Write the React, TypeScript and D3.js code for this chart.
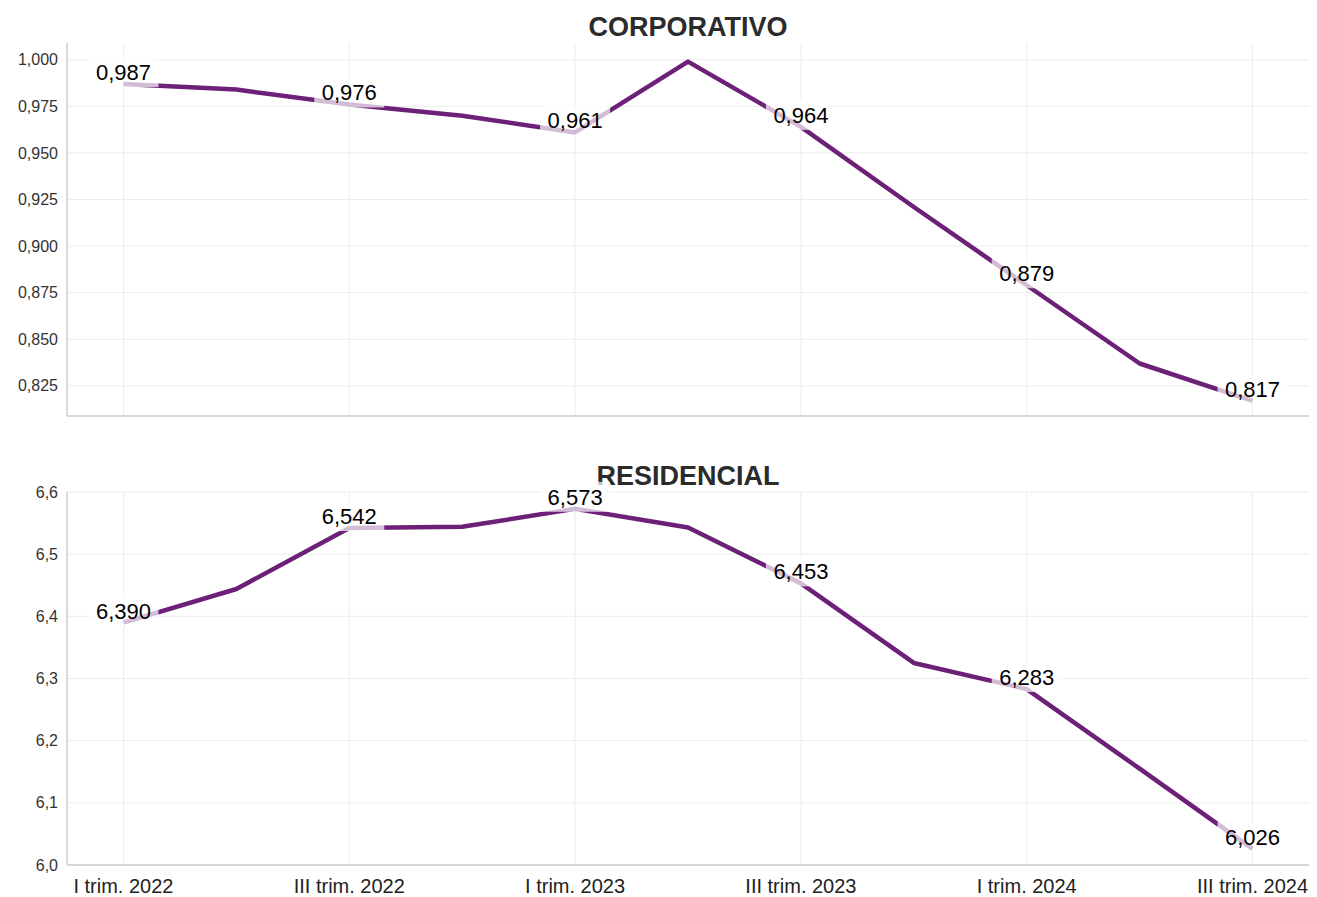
import React, { useRef, useEffect } from 'react';
import * as d3 from 'd3';

const quarters = [
  'I trim. 2022', 'II trim. 2022', 'III trim. 2022', 'IV trim. 2022',
  'I trim. 2023', 'II trim. 2023', 'III trim. 2023', 'IV trim. 2023',
  'I trim. 2024', 'II trim. 2024', 'III trim. 2024',
];
const corporativo = [0.987, 0.984, 0.976, 0.970, 0.961, 0.999, 0.964, 0.921, 0.879, 0.837, 0.817];
const residencial = [6.390, 6.444, 6.542, 6.544, 6.573, 6.543, 6.453, 6.325, 6.283, 6.155, 6.026];
const corpTicks = [0.825, 0.85, 0.875, 0.9, 0.925, 0.95, 0.975, 1.0];
const resTicks = [6.0, 6.1, 6.2, 6.3, 6.4, 6.5, 6.6];
const xTickLabels = ['I trim. 2022', 'III trim. 2022', 'I trim. 2023', 'III trim. 2023', 'I trim. 2024', 'III trim. 2024'];

const W = 1317, H = 897;
const LINE = '#6d2077';
const FONT = '"Liberation Sans", Arial, sans-serif';

const App = () => {
  const ref = useRef<SVGSVGElement>(null);

  useEffect(() => {
    document.body.style.margin = '0';
    const svg = d3.select(ref.current);
    svg.selectAll('*').remove();

    const left = 67, right = 1309;
    const x = d3.scalePoint<string>().domain(quarters).range([left, right]).padding(0.5);

    const panels = [
      { title: 'CORPORATIVO', data: corporativo, ticks: corpTicks, top: 43, bottom: 416,
        domain: [d3.min(corporativo)! * 0.99, d3.max(corporativo)! * 1.01], fmt: '.3f' },
      { title: 'RESIDENCIAL', data: residencial, ticks: resTicks, top: 492, bottom: 865,
        domain: [6.0, 6.6], fmt: '.1f' },
    ];

    const comma = (f: string) => (v: number) => d3.format(f)(v).replace('.', ',');

    panels.forEach((p, pi) => {
      const y = d3.scaleLinear().domain(p.domain).range([p.bottom, p.top]);
      const g = svg.append('g');

      // grid
      g.selectAll('line.hg').data(p.ticks).enter().append('line')
        .attr('x1', left).attr('x2', right)
        .attr('y1', (d) => y(d)).attr('y2', (d) => y(d))
        .attr('stroke', '#ececec').attr('stroke-width', 1);
      g.selectAll('line.vg').data(xTickLabels).enter().append('line')
        .attr('x1', (d) => x(d)!).attr('x2', (d) => x(d)!)
        .attr('y1', p.top).attr('y2', p.bottom)
        .attr('stroke', '#ececec').attr('stroke-width', 1);

      // axes
      g.append('line').attr('x1', left).attr('x2', left).attr('y1', p.top).attr('y2', p.bottom)
        .attr('stroke', '#cccccc').attr('stroke-width', 1.5);
      g.append('line').attr('x1', left).attr('x2', right).attr('y1', p.bottom).attr('y2', p.bottom)
        .attr('stroke', '#cccccc').attr('stroke-width', 1.5);

      g.selectAll('text.yt').data(p.ticks).enter().append('text')
        .attr('x', left - 9).attr('y', (d) => y(d))
        .attr('dy', '0.35em').attr('text-anchor', 'end')
        .attr('font-family', FONT).attr('font-size', 16).attr('fill', '#333')
        .text(comma(p.fmt));

      if (pi === 1) {
        g.selectAll('text.xt').data(xTickLabels).enter().append('text')
          .attr('x', (d) => x(d)!).attr('y', p.bottom + 28)
          .attr('text-anchor', 'middle')
          .attr('font-family', FONT).attr('font-size', 20).attr('fill', '#222')
          .text((d) => d);
      }

      // title
      g.append('text').attr('x', (left + right) / 2).attr('y', p.top - 7)
        .attr('text-anchor', 'middle').attr('font-family', FONT)
        .attr('font-size', 27).attr('font-weight', 'bold').attr('fill', '#2b2b2b')
        .text(p.title);

      // line
      const line = d3.line<number>().x((_, i) => x(quarters[i])!).y((d) => y(d));
      g.append('path').datum(p.data).attr('d', line)
        .attr('fill', 'none').attr('stroke', LINE).attr('stroke-width', 4.5)
        .attr('stroke-linejoin', 'round');

      // labels
      const labelled = p.data.map((v, i) => ({ v, i })).filter((d) => d.i % 2 === 0);
      const lg = g.selectAll('g.lbl').data(labelled).enter().append('g')
        .attr('transform', (d) => `translate(${x(quarters[d.i])},${y(d.v)})`);
      lg.append('rect').attr('x', -35).attr('y', -27).attr('width', 70).attr('height', 30)
        .attr('fill', '#fff').attr('fill-opacity', 0.7);
      lg.append('text').attr('y', -4).attr('text-anchor', 'middle')
        .attr('font-family', FONT).attr('font-size', 22).attr('fill', '#000')
        .text((d) => comma('.3f')(d.v));
    });
  }, []);

  return <svg ref={ref} width={W} height={H} style={{ display: 'block', background: '#fff' }}></svg>;
};

export default App;
